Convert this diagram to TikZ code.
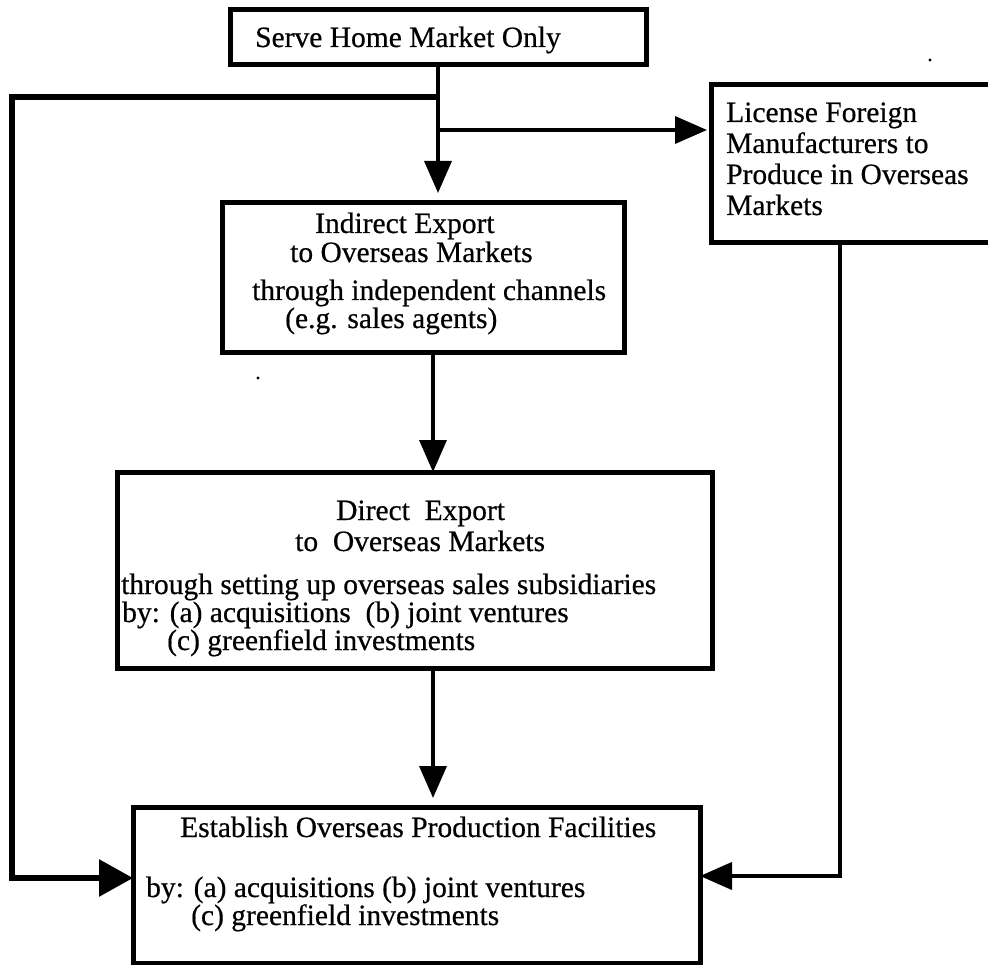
\documentclass[tikz,border=0pt]{standalone}
\usepackage{fontspec}
\setmainfont{Liberation Serif}
\newfontfamily\scanfont{Liberation Serif}[FakeBold=0.5]
\usetikzlibrary{arrows.meta}
\begin{document}
\begin{tikzpicture}[x=1pt,y=-1pt,
  box/.style={draw, line width=5pt, outer sep=0pt, inner sep=0pt, anchor=north west},
  txt/.style={inner sep=0pt, anchor=base west, font=\scanfont\fontsize{29.5}{31}\selectfont},
  head/.style={-{Triangle[length=32pt,width=27pt]}},
  bighead/.style={-{Triangle[length=34pt,width=36pt]}},
  link/.style={head, line width=3.5pt},
  sideloop/.style={bighead, line width=6pt},
  backloop/.style={head, line width=4pt},
  speck/.style={fill=black}
]
\useasboundingbox (0,0) rectangle (988,965);
\clip (0,0) rectangle (988,965);

% boxes
\node[box, minimum width=416pt, minimum height=55pt]  (home)     at (230,10)  {};
\node[box, minimum width=281pt, minimum height=158pt] (license)  at (711,85)  {};
\node[box, minimum width=402pt, minimum height=150pt] (indirect) at (222,203) {};
\node[box, minimum width=595pt, minimum height=196pt] (direct)   at (117,472) {};
\node[box, minimum width=567pt, minimum height=156pt] (estab)    at (133,807) {};

% texts
\node[txt] (homeA) at (255,47) {Serve Home Market Only};

\node[txt] (licA) at (726,122) {License Foreign};
\node[txt] (licB) at (726,153) {Manufacturers to};
\node[txt] (licC) at (726,184) {Produce in Overseas};
\node[txt] (licD) at (726,215) {Markets};

\node[txt] (indA) at (315,233) {Indirect Export};
\node[txt] (indB) at (290,262) {to Overseas Markets};
\node[txt] (indC) at (252,300) {through independent channels};
\node[txt] (indD) at (285,328) {(e.g. sales agents)};

\node[txt] (dirA) at (336,520) {Direct\ \ Export};
\node[txt] (dirB) at (295,551) {to\ \ Overseas Markets};
\node[txt] (dirC) at (121,594) {through setting up overseas sales subsidiaries};
\node[txt] (dirD) at (122,622) {by: (a) acquisitions\ \ (b) joint ventures};
\node[txt] (dirE) at (167,650) {(c) greenfield investments};

\node[txt] (estA) at (180,837) {Establish Overseas Production Facilities};
\node[txt] (estB) at (146,897) {by: (a) acquisitions (b) joint ventures};
\node[txt] (estC) at (191,925) {(c) greenfield investments};

% junctions and bends
\coordinate (spine) at (438,97);
\coordinate (tee)   at (438,130);
\coordinate (lk)    at (12,97);
\coordinate (ly)    at (0,878);
\coordinate (rx)    at (840,0);
\coordinate (ry)    at (0,876);
\coordinate (dx)    at (433,0);

% connectors
\draw[link] (home.south) -- ([yshift=10pt]indirect.north -| spine);
\draw[link] (tee) -- ([xshift=-4pt]license.west |- tee);
\draw[sideloop] (spine) -- (lk) |- (estab.west |- ly);
\draw[backloop] (license.south -| rx) |- (estab.east |- ry);
\draw[link] (indirect.south -| dx) -- (direct.north -| dx);
\draw[link] (direct.south -| dx) -- ([yshift=9pt]estab.north -| dx);

% stray marks
\fill[speck] (930,60) circle (1.6pt);
\fill[speck] (258,378) circle (1.6pt);
\end{tikzpicture}
\end{document}
